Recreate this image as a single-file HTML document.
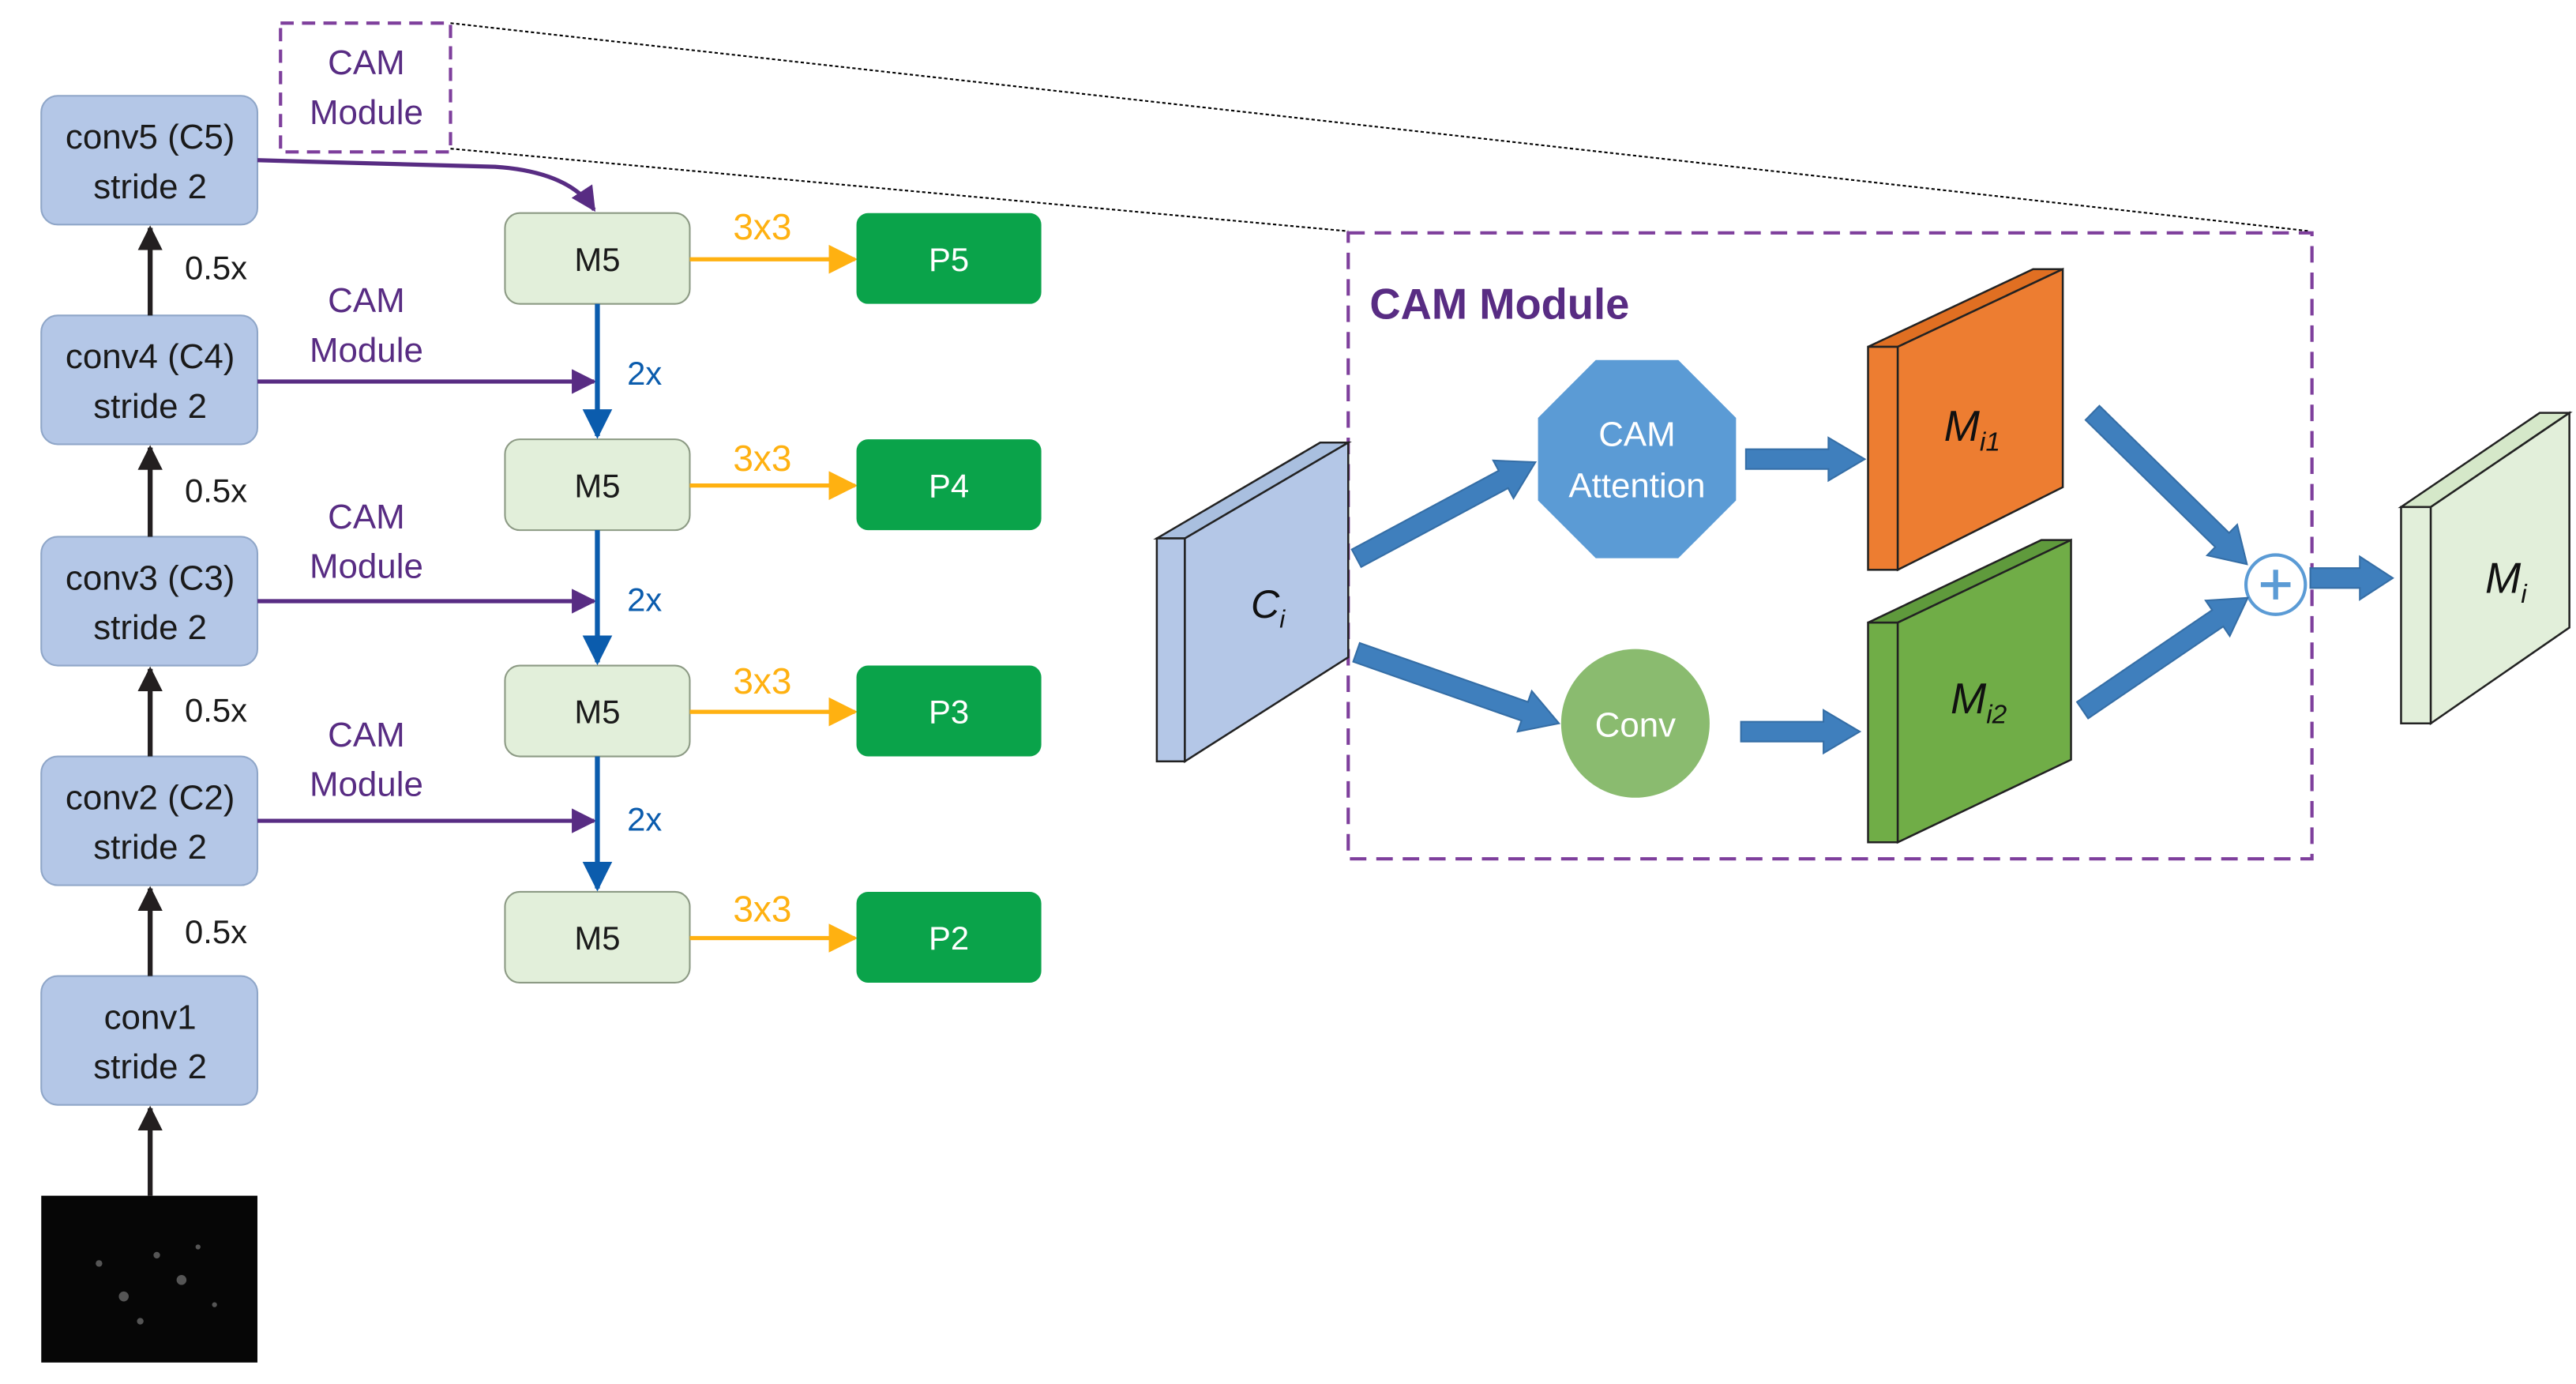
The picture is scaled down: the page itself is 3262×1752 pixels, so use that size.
<!DOCTYPE html>
<html><head><meta charset="utf-8"><style>
html,body{margin:0;padding:0;background:#fff;}
svg{display:block;}
text{font-family:"Liberation Sans",sans-serif;}
</style></head><body>
<svg width="3262" height="1752" viewBox="0 0 1561 838" preserveAspectRatio="none" xmlns="http://www.w3.org/2000/svg">
<defs>
<marker id="ab" viewBox="0 0 10 10" refX="9" refY="5" markerWidth="5" markerHeight="5" orient="auto"><path d="M0,0L10,5L0,10z" fill="#231f20"/></marker>
<marker id="ap" viewBox="0 0 10 10" refX="9" refY="5" markerWidth="6" markerHeight="6" orient="auto"><path d="M0,0L10,5L0,10z" fill="#582c83"/></marker>
<marker id="abl" viewBox="0 0 10 10" refX="9" refY="5" markerWidth="6" markerHeight="6" orient="auto"><path d="M0,0L10,5L0,10z" fill="#0b5cad"/></marker>
<marker id="ao" viewBox="0 0 10 10" refX="9" refY="5" markerWidth="7" markerHeight="7" orient="auto"><path d="M0,0L10,5L0,10z" fill="#ffb111"/></marker>
</defs>

<!-- dotted projection lines -->
<line x1="273" y1="14" x2="1400" y2="140" stroke="#000" stroke-width="1" stroke-dasharray="2,1.5"/>
<line x1="273" y1="90" x2="817" y2="140" stroke="#000" stroke-width="1" stroke-dasharray="2,1.5"/>

<!-- conv boxes -->
<g fill="#b4c7e7" stroke="#8fa6c8" stroke-width="1">
<rect x="25" y="58" width="131" height="78" rx="10"/>
<rect x="25" y="191" width="131" height="78" rx="10"/>
<rect x="25" y="325" width="131" height="78" rx="10"/>
<rect x="25" y="458" width="131" height="78" rx="10"/>
<rect x="25" y="591" width="131" height="78" rx="10"/>
</g>
<g font-size="21" fill="#1a1a1a" text-anchor="middle">
<text x="91" y="90">conv5 (C5)</text><text x="91" y="120">stride 2</text>
<text x="91" y="223">conv4 (C4)</text><text x="91" y="253">stride 2</text>
<text x="91" y="357">conv3 (C3)</text><text x="91" y="387">stride 2</text>
<text x="91" y="490">conv2 (C2)</text><text x="91" y="520">stride 2</text>
<text x="91" y="623">conv1</text><text x="91" y="653">stride 2</text>
</g>
<rect x="25" y="724" width="131" height="101" fill="#060606"/>
<g fill="#555"><circle cx="60" cy="765" r="2"/><circle cx="75" cy="785" r="3"/><circle cx="95" cy="760" r="2"/><circle cx="110" cy="775" r="3"/><circle cx="120" cy="755" r="1.5"/><circle cx="85" cy="800" r="2"/><circle cx="130" cy="790" r="1.5"/></g>

<!-- black arrows -->
<g stroke="#231f20" stroke-width="3" marker-end="url(#ab)">
<line x1="91" y1="191" x2="91" y2="138"/>
<line x1="91" y1="325" x2="91" y2="271"/>
<line x1="91" y1="458" x2="91" y2="405"/>
<line x1="91" y1="591" x2="91" y2="538"/>
<line x1="91" y1="724" x2="91" y2="671"/>
</g>
<g font-size="20" fill="#1a1a1a">
<text x="112" y="169">0.5x</text><text x="112" y="304">0.5x</text><text x="112" y="437">0.5x</text><text x="112" y="571">0.5x</text>
</g>

<!-- CAM module small -->
<rect x="170" y="14" width="103" height="78" fill="none" stroke="#7e3f9c" stroke-width="2" stroke-dasharray="8,5"/>
<g font-size="21" fill="#582c83" text-anchor="middle">
<text x="222" y="45">CAM</text><text x="222" y="75">Module</text>
<text x="222" y="189">CAM</text><text x="222" y="219">Module</text>
<text x="222" y="320">CAM</text><text x="222" y="350">Module</text>
<text x="222" y="452">CAM</text><text x="222" y="482">Module</text>
</g>
<g stroke="#582c83" stroke-width="2.5" fill="none" marker-end="url(#ap)">
<path d="M156,97 L300,101 Q345,104 360,127"/>
<line x1="156" y1="231" x2="360" y2="231"/>
<line x1="156" y1="364" x2="360" y2="364"/>
<line x1="156" y1="497" x2="360" y2="497"/>
</g>

<!-- M5 boxes -->
<g fill="#e2efda" stroke="#8c9a84" stroke-width="1">
<rect x="306" y="129" width="112" height="55" rx="9"/>
<rect x="306" y="266" width="112" height="55" rx="9"/>
<rect x="306" y="403" width="112" height="55" rx="9"/>
<rect x="306" y="540" width="112" height="55" rx="9"/>
</g>
<g font-size="20" fill="#1a1a1a" text-anchor="middle">
<text x="362" y="164">M5</text><text x="362" y="301">M5</text><text x="362" y="438">M5</text><text x="362" y="575">M5</text>
</g>
<g stroke="#0b5cad" stroke-width="3" marker-end="url(#abl)">
<line x1="362" y1="184" x2="362" y2="264"/>
<line x1="362" y1="321" x2="362" y2="401"/>
<line x1="362" y1="458" x2="362" y2="538"/>
</g>
<g font-size="20" fill="#0b5cad"><text x="380" y="233">2x</text><text x="380" y="370">2x</text><text x="380" y="503">2x</text></g>

<!-- orange arrows -->
<g stroke="#ffb111" stroke-width="2.5" marker-end="url(#ao)">
<line x1="418" y1="157" x2="518" y2="157"/>
<line x1="418" y1="294" x2="518" y2="294"/>
<line x1="418" y1="431" x2="518" y2="431"/>
<line x1="418" y1="568" x2="518" y2="568"/>
</g>
<g font-size="22" fill="#ffb111" text-anchor="middle">
<text x="462" y="145">3x3</text><text x="462" y="285">3x3</text><text x="462" y="420">3x3</text><text x="462" y="558">3x3</text>
</g>
<g fill="#0aa34a">
<rect x="519" y="129" width="112" height="55" rx="7"/>
<rect x="519" y="266" width="112" height="55" rx="7"/>
<rect x="519" y="403" width="112" height="55" rx="7"/>
<rect x="519" y="540" width="112" height="55" rx="7"/>
</g>
<g font-size="20" fill="#fff" text-anchor="middle">
<text x="575" y="164">P5</text><text x="575" y="301">P4</text><text x="575" y="438">P3</text><text x="575" y="575">P2</text>
</g>

<!-- big CAM module -->
<rect x="817" y="141" width="584" height="379" fill="none" stroke="#7e3f9c" stroke-width="2" stroke-dasharray="10,6"/>
<text x="830" y="193" font-size="26" font-weight="bold" fill="#582c83">CAM Module</text>

<!-- Ci slab -->
<g stroke="#222" stroke-width="1.2">
<polygon points="701,326 800,268 817,268 718,326" fill="#a9bfdf"/>
<rect x="701" y="326" width="17" height="135" fill="#b4c7e7"/>
<polygon points="718,326 817,268 817,398 718,461" fill="#b4c7e7"/>
</g>
<text x="758" y="374" font-size="24" font-style="italic" fill="#111">C<tspan font-size="15" dy="6">i</tspan></text>

<!-- CAM Attention -->
<polygon points="967,218 1017,218 1052,253 1052,303 1017,338 967,338 932,303 932,253" fill="#5b9bd5"/>
<text x="992" y="270" font-size="21" fill="#fff" text-anchor="middle">CAM</text>
<text x="992" y="301" font-size="21" fill="#fff" text-anchor="middle">Attention</text>
<!-- Conv -->
<ellipse cx="991" cy="438" rx="45" ry="45" fill="#8abb6f"/>
<text x="991" y="446" font-size="21" fill="#fff" text-anchor="middle">Conv</text>

<!-- Mi1 -->
<g stroke="#222" stroke-width="1.2">
<polygon points="1132,210 1232,163 1250,163 1150,210" fill="#e06f22"/>
<rect x="1132" y="210" width="18" height="135" fill="#ed7d31"/>
<polygon points="1150,210 1250,163 1250,295 1150,345" fill="#ed7d31"/>
<polygon points="1132,377 1237,327 1255,327 1150,377" fill="#5f9a3c"/>
<rect x="1132" y="377" width="18" height="133" fill="#70ad47"/>
<polygon points="1150,377 1255,327 1255,460 1150,510" fill="#70ad47"/>
<polygon points="1455,307 1539,250 1557,250 1473,307" fill="#d5e8c9"/>
<rect x="1455" y="307" width="18" height="131" fill="#e2efda"/>
<polygon points="1473,307 1557,250 1557,380 1473,438" fill="#e2efda"/>
</g>
<text x="1178" y="267" font-size="26" font-style="italic" fill="#111">M<tspan font-size="16" dy="6">i1</tspan></text>
<text x="1182" y="432" font-size="26" font-style="italic" fill="#111">M<tspan font-size="16" dy="6">i2</tspan></text>
<text x="1506" y="359" font-size="26" font-style="italic" fill="#111">M<tspan font-size="16" dy="6">i</tspan></text>

<!-- plus -->
<circle cx="1379" cy="354" r="18" fill="#fff" stroke="#5b9bd5" stroke-width="2"/>
<path d="M1370,354H1388M1379,345V363" stroke="#5b9bd5" stroke-width="3"/>

<!-- block arrows -->
<g fill="#3f7fbd" stroke="#356ea6" stroke-width="1">
<path transform="translate(822,338) rotate(-28.2)" d="M0,-6H101V-13L123,0L101,13V6H0Z"/>
<path transform="translate(822,395) rotate(19.3)" d="M0,-6H108V-13L130,0L108,13V6H0Z"/>
<path transform="translate(1058,278)" d="M0,-6H50V-13L72,0L50,13V6H0Z"/>
<path transform="translate(1055,443)" d="M0,-6H50V-13L72,0L50,13V6H0Z"/>
<path transform="translate(1268,250) rotate(44.4)" d="M0,-6H110V-13L131,0L110,13V6H0Z"/>
<path transform="translate(1262,430) rotate(-34.2)" d="M0,-6H99V-13L121,0L99,13V6H0Z"/>
<path transform="translate(1400,350)" d="M0,-6H30V-13L50,0L30,13V6H0Z"/>
</g>
</svg>
</body></html>
